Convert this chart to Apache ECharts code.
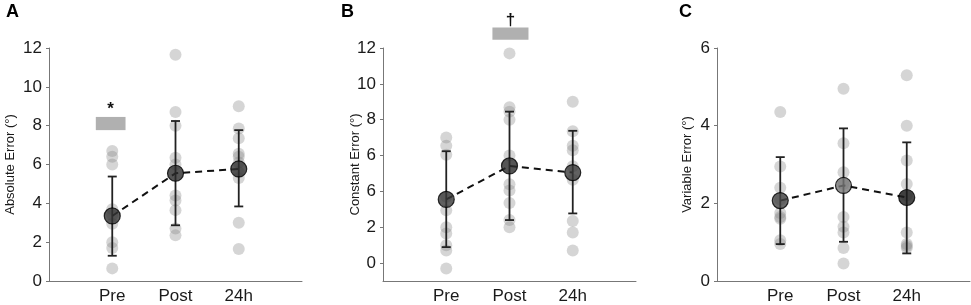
<!DOCTYPE html>
<html>
<head>
<meta charset="utf-8">
<script src="https://cdn.jsdelivr.net/npm/echarts@6/dist/echarts.min.js"></script>
<style>
  html, body { margin: 0; padding: 0; background: #fff; }
  #chart { width: 971px; height: 305px; }
</style>
</head>
<body>
<div id="chart"></div>
<script>
// sessions on the x axis
const categories = ['Pre', 'Post', '24h']

// A - absolute error (deg), individual subjects
const absPre = [6.7, 6.4, 6.0, 3.7, 3.4, 2.95, 2.0, 1.7, 0.65]
const absPost = [11.65, 8.7, 8.0, 6.35, 6.0, 4.4, 4.15, 3.65, 2.7, 2.35]
const abs24h = [9.0, 7.85, 7.35, 6.55, 6.4, 6.1, 5.6, 5.3, 3.0, 1.65]
const absMean = [3.35, 5.55, 5.77]
const absLow = [1.3, 2.87, 3.84]
const absHigh = [5.38, 8.24, 7.77]
const absTicks = ['0', '2', '4', '6', '8', '10', '12']
// significance box: [xFrom, xTo, yFrom, yTo, mark]
const absSig = [[0.74, 1.21, 7.77, 8.45, '*']]

// B - constant error (deg)
const constPre = [7.0, 6.55, 6.05, 3.7, 2.95, 2.0, 1.65, 1.0, 0.7, -0.3]
const constPost = [11.7, 8.7, 8.45, 8.0, 6.0, 4.4, 4.05, 3.35, 2.4, 2.0]
const const24h = [9.0, 7.35, 6.55, 6.3, 5.4, 4.65, 2.35, 1.7, 0.7]
const constMean = [3.55, 5.42, 5.05]
const constLow = [0.89, 2.4, 2.77]
const constHigh = [6.24, 8.45, 7.38]
const constTicks = ['0', '2', '6', '6', '8', '10', '12']
const constSig = [[1.73, 2.3, 12.46, 13.14, '†']]

// C - variable error (deg)
const varPre = [4.35, 2.95, 2.4, 2.1, 1.75, 1.65, 1.6, 1.05, 0.95]
const varPost = [4.95, 3.55, 2.8, 2.5, 1.65, 1.4, 1.25, 0.85, 0.45]
const var24h = [5.3, 4.0, 3.1, 2.5, 2.2, 1.25, 0.95, 0.9, 0.85]
const varMean = [2.07, 2.46, 2.15]
const varLow = [0.95, 1.01, 0.71]
const varHigh = [3.19, 3.93, 3.57]
const varTicks = ['0', '2', '4', '6']

const font = "'Liberation Sans', Arial, sans-serif"
const chart = echarts.init(document.getElementById('chart'))

const panels = [
  {
    letter: 'A', left: 49, name: 'Absolute Error (°)', nameGap: 32,
    min: 0, max: 12, ticks: absTicks, step: 2,
    groups: [absPre, absPost, abs24h],
    mean: absMean, low: absLow, high: absHigh, sig: absSig,
    meanColors: ['#333', '#2b2b2b', '#303030'],
  },
  {
    letter: 'B', left: 383, name: 'Constant Error (°)', nameGap: 21,
    min: -1, max: 12, ticks: constTicks, step: 2,
    groups: [constPre, constPost, const24h],
    mean: constMean, low: constLow, high: constHigh, sig: constSig,
    meanColors: ['#383838', '#2b2b2b', '#3a3a3a'],
  },
  {
    letter: 'C', left: 717, name: 'Variable Error (°)', nameGap: 23,
    min: 0, max: 6, ticks: varTicks, step: 2,
    groups: [varPre, varPost, var24h],
    mean: varMean, low: varLow, high: varHigh, sig: [],
    meanColors: ['#454545', '#777', '#1c1c1c'],
  },
]

let grid = []
let xAxis = []
let yAxis = []
let series = []
let graphic = []

panels.forEach((p, i) => {
  grid.push({ left: p.left, top: 48, width: 253, height: 235 })
  xAxis.push({
    type: 'value', gridIndex: i, min: 0, max: 4,
    axisLine: { onZero: false, lineStyle: { color: '#777', width: 1 } },
    axisTick: { show: false },
    splitLine: { show: false },
    axisLabel: {
      customValues: [1, 2, 3],
      formatter: (v) => categories[v - 1] || '',
      color: '#1a1a1a', fontSize: 17, fontFamily: font, margin: 7,
    },
  })
  let tickVals = p.ticks.map((t, k) => k * p.step)
  yAxis.push({
    type: 'value', gridIndex: i, min: p.min, max: p.max,
    name: p.name, nameLocation: 'middle', nameGap: p.nameGap,
    nameMoveOverlap: false,
    nameTextStyle: { fontSize: 13, color: '#1a1a1a', fontFamily: font },
    axisLine: { show: true, lineStyle: { color: '#777', width: 1 } },
    axisTick: { show: true, length: 3, customValues: tickVals, lineStyle: { color: '#777' } },
    splitLine: { show: false },
    axisLabel: {
      customValues: tickVals,
      formatter: (v) => p.ticks[Math.round(v / p.step)],
      color: '#1a1a1a', fontSize: 17, fontFamily: font, margin: 7,
    },
  })

  // individual subjects
  let pts = []
  p.groups.forEach((g, j) => g.forEach((v) => pts.push([j + 1, v])))
  series.push({
    type: 'scatter', xAxisIndex: i, yAxisIndex: i,
    symbolSize: 12, z: 1,
    itemStyle: { color: 'rgba(130,130,130,0.42)' },
    data: pts,
  })

  // SD bars
  series.push({
    type: 'custom', xAxisIndex: i, yAxisIndex: i, z: 2,
    data: p.mean.map((m, j) => [j + 1, p.low[j], p.high[j]]),
    renderItem: (params, api) => {
      let lo = api.coord([api.value(0), api.value(1)])
      let hi = api.coord([api.value(0), api.value(2)])
      let w = 4.5
      let style = { stroke: '#222', lineWidth: 1.8 }
      return {
        type: 'group',
        children: [
          { type: 'line', shape: { x1: lo[0], y1: lo[1], x2: hi[0], y2: hi[1] }, style },
          { type: 'line', shape: { x1: lo[0] - w, y1: lo[1], x2: lo[0] + w, y2: lo[1] }, style },
          { type: 'line', shape: { x1: hi[0] - w, y1: hi[1], x2: hi[0] + w, y2: hi[1] }, style },
        ],
      }
    },
  })

  // dashed line through the means
  series.push({
    type: 'line', xAxisIndex: i, yAxisIndex: i, z: 3,
    symbol: 'none',
    lineStyle: { color: '#111', width: 2, type: [7, 5] },
    data: p.mean.map((m, j) => [j + 1, m]),
  })

  // group means
  series.push({
    type: 'scatter', xAxisIndex: i, yAxisIndex: i, z: 4,
    symbolSize: 16,
    itemStyle: {
      color: (params) => p.meanColors[params.dataIndex],
      borderColor: '#000', borderWidth: 1.2,
    },
    data: p.mean.map((m, j) => [j + 1, m]),
  })

  // significance markers
  if (p.sig.length) {
    series.push({
      type: 'custom', xAxisIndex: i, yAxisIndex: i, z: 5, clip: false,
      data: p.sig,
      renderItem: (params, api) => {
        let s = p.sig[params.dataIndex]
        let a = api.coord([s[0], s[3]])
        let b = api.coord([s[1], s[2]])
        return {
          type: 'group',
          children: [
            { type: 'rect', shape: { x: a[0], y: a[1], width: b[0] - a[0], height: b[1] - a[1] }, style: { fill: '#b0b0b0' } },
            {
              type: 'text', x: (a[0] + b[0]) / 2, y: a[1] + 1,
              style: { text: s[4], fill: '#111', fontSize: 17, fontWeight: 'bold', fontFamily: font, align: 'center', verticalAlign: 'bottom' },
            },
          ],
        }
      },
    })
  }
})

graphic = [
  { type: 'text', left: 6, top: 3, style: { text: 'A', fontSize: 18, fontWeight: 'bold', fill: '#000', fontFamily: font } },
  { type: 'text', left: 341, top: 3, style: { text: 'B', fontSize: 18, fontWeight: 'bold', fill: '#000', fontFamily: font } },
  { type: 'text', left: 679, top: 3, style: { text: 'C', fontSize: 18, fontWeight: 'bold', fill: '#000', fontFamily: font } },
]

chart.setOption({
  animation: false,
  grid: grid,
  xAxis: xAxis,
  yAxis: yAxis,
  series: series,
  graphic: graphic,
})
</script>
</body>
</html>
